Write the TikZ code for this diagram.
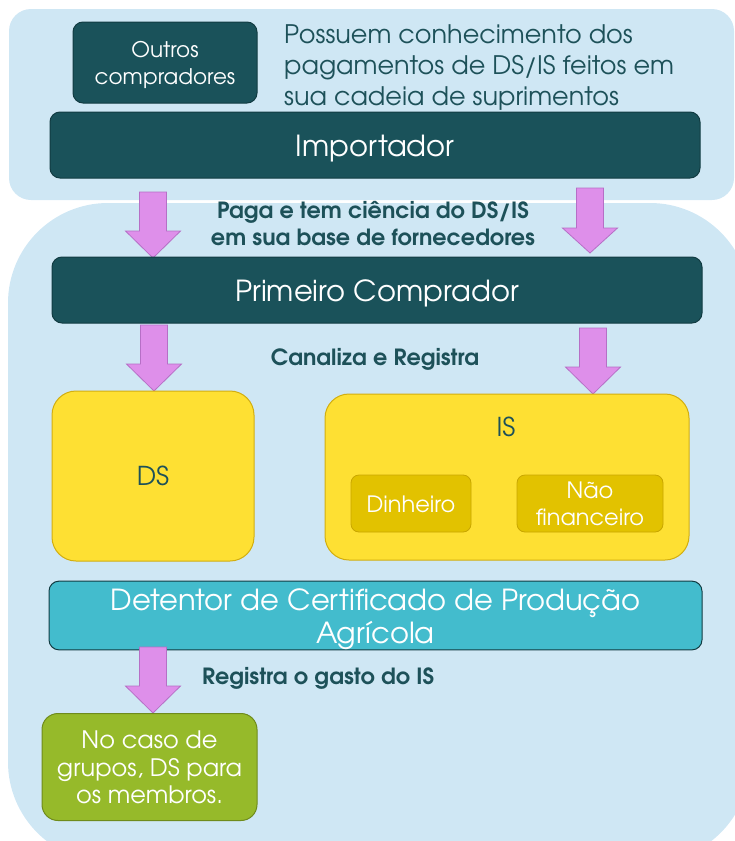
\documentclass[tikz,border=0pt]{standalone}
\usepackage{fontspec}
\setmainfont{TeX Gyre Adventor}
\definecolor{bgblue}{HTML}{CFE7F4}
\definecolor{teal}{HTML}{1A525A}
\definecolor{tealdk}{HTML}{123C42}
\definecolor{txteal}{HTML}{1D5159}
\definecolor{pinkf}{HTML}{DE8FEA}
\definecolor{pinkd}{HTML}{B66FC6}
\definecolor{yell}{HTML}{FEE033}
\definecolor{yelld}{HTML}{D2AE10}
\definecolor{yell2}{HTML}{E2C200}
\definecolor{yell2d}{HTML}{C9A600}
\definecolor{cyanb}{HTML}{43BCCD}
\definecolor{greenb}{HTML}{96BA2A}
\definecolor{greend}{HTML}{6F8B1C}
\tikzset{
  darkbox/.style={draw=tealdk, fill=teal, line width=1pt, rounded corners=10pt, text=white, align=center, inner sep=0pt},
  yellbox/.style={draw=yelld, fill=yell, line width=1pt, rounded corners=24pt, inner sep=0pt},
  subbox/.style={draw=yell2d, fill=yell2, line width=0.8pt, rounded corners=8pt, text=white, align=center, inner sep=0pt, font=\fontsize{22.5}{27}\selectfont},
  cyanbox/.style={draw=tealdk, fill=cyanb, line width=1pt, rounded corners=10pt, text=white, align=center, inner sep=0pt},
  greenbox/.style={draw=greend, fill=greenb, line width=1pt, rounded corners=16pt, text=white, align=center, inner sep=0pt, font=\fontsize{24}{27.5}\selectfont},
  blockarrow/.style={draw=pinkd, fill=pinkf, line width=0.8pt, line join=miter},
  boldlabel/.style={text=txteal, font=\bfseries\fontsize{22.3}{26.5}\selectfont, align=center, inner sep=0pt},
  bigtext/.style={font=\fontsize{29}{33}\selectfont}
}
\newcommand{\pinkarrow}[5]{% name, cx, top, headstart, tip
  \coordinate (#1-top) at (#2,#3);
  \coordinate (#1-tip) at (#2,#5);
  \draw[blockarrow] ($(#1-top)+(-13.5,0)$) -- ($(#1-top)+(13.5,0)$) -- (#2+13.5,#4) -- (#2+27.5,#4) -- (#1-tip) -- (#2-27.5,#4) -- (#2-13.5,#4) -- cycle;
}
\newcommand{\lift}[1]{\rule{0pt}{#1}}
\usetikzlibrary{calc}
\begin{document}
\begin{tikzpicture}[x=1pt,y=-1pt]
\useasboundingbox (0,0) rectangle (735,841);
\begin{scope}
  \clip (0,0) rectangle (735,841);
  \fill[bgblue, rounded corners=22pt] (9,9) rectangle (734,200);
  \fill[bgblue, rounded corners=100pt] (8,203) rectangle (750,862);
\end{scope}

% top region
\node[darkbox, minimum width=184pt, minimum height=81pt, font=\fontsize{21.5}{27}\selectfont] (outros) at (165,62.5) {\lift{22pt}Outros\\compradores};
\node[anchor=west, text=txteal, align=left, inner sep=0pt, font=\fontsize{25.5}{31}\selectfont] (possuem) at (284,67.5) {Possuem conhecimento\ dos\\pagamentos de DS/IS feitos em\\sua cadeia de suprimentos};
\node[darkbox, bigtext, minimum width=650pt, minimum height=66pt] (imp) at (375,145) {\lift{29.5pt}Importador};

% arrows importador -> primeiro comprador
\pinkarrow{a1}{153}{192}{231}{258}
\pinkarrow{a2}{590}{188}{228}{253}
\node[boldlabel] (paga) at (373,223.5) {Paga e tem ciência do DS/IS\\em sua base de fornecedores};

\node[darkbox, bigtext, minimum width=650pt, minimum height=66pt] (pc) at (377,290) {\lift{29pt}Primeiro Comprador};

\pinkarrow{a3}{154}{325}{364}{391}
\pinkarrow{a4}{593}{328}{367}{394}
\node[boldlabel] (canal) at (375,359) {Canaliza e Registra};

\node[yellbox, minimum width=202pt, minimum height=170pt, text=txteal, font=\fontsize{26}{30}\selectfont] (ds) at (153,476) {DS};
\node[yellbox, minimum width=364pt, minimum height=166pt] (is) at (507,477) {};
\node[text=txteal, font=\fontsize{26}{30}\selectfont, inner sep=0pt] (islabel) at (506,427) {IS};
\node[subbox, minimum width=120pt, minimum height=57pt] (din) at (411,503.5) {\lift{19pt}Dinheiro};
\node[subbox, minimum width=146pt, minimum height=57pt] (nao) at (590,503.5) {Não\\financeiro};

\node[cyanbox, bigtext, minimum width=653pt, minimum height=67pt] (det) at (375.5,615.5) {\lift{29.5pt}Detentor de Certificado de Produção\\Agrícola};

\pinkarrow{a5}{153}{647}{686}{713}
\node[boldlabel, anchor=west] (regis) at (202,678) {Registra o gasto do IS};

\node[greenbox, minimum width=215pt, minimum height=107pt] (grp) at (149.5,767) {\lift{19pt}No caso de\\grupos, DS para\\os membros.};
\end{tikzpicture}
\end{document}
